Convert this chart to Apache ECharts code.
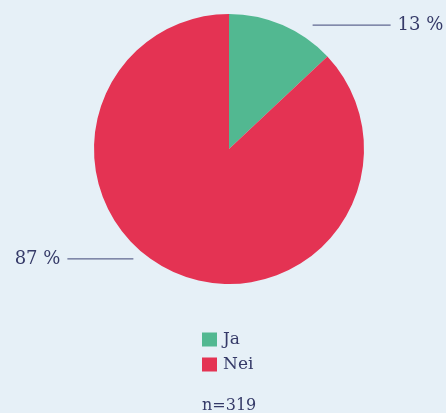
<!DOCTYPE html>
<html>
<head>
<meta charset="utf-8">
<script src="https://cdn.jsdelivr.net/npm/echarts@6/dist/echarts.min.js"></script>
<style>
  html, body { margin: 0; padding: 0; background: #e6f0f7; }
  #chart { width: 446px; height: 413px; }
</style>
</head>
<body>
<div id="chart"></div>
<script>
// svar
var categories = ['Ja', 'Nei']
var values = [13, 87]
var colors = ['#52b891', '#e43353']
var nText = 'n=319'

var textColor = '#353a68'
var serif = '"DejaVu Serif", "Liberation Serif", serif'

var chart = echarts.init(document.getElementById('chart'))

var pieData = categories.map(function (name, i) {
  return { name: name, value: values[i], itemStyle: { color: colors[i] } }
})

// avstand mellom kant og strek
var lineGap = [30, 42]

chart.setOption({
  backgroundColor: '#e6f0f7',
  animation: false,
  title: {
    text: nText,
    left: 202,
    top: 398,
    padding: 0,
    textStyle: { fontFamily: serif, fontSize: 16, fontWeight: 'normal', color: textColor }
  },
  legend: {
    orient: 'vertical',
    left: 202,
    top: 331,
    padding: 0,
    icon: 'rect',
    itemWidth: 15,
    itemHeight: 14,
    itemGap: 8,
    data: categories,
    textStyle: { fontFamily: serif, fontSize: 17, color: textColor, padding: [0, 0, 0, 1] }
  },
  series: [
    {
      type: 'pie',
      center: [229, 149],
      radius: 135,
      startAngle: 90,
      clockwise: true,
      data: pieData,
      label: {
        show: true,
        position: 'outside',
        formatter: '{c} %',
        fontFamily: serif,
        fontSize: 18,
        color: textColor,
        width: 60,
        overflow: 'none',
        distanceToLabelLine: 7
      },
      labelLine: {
        show: true,
        length: 0,
        length2: 108,
        lineStyle: { color: '#3f4577', width: 1 }
      },
      labelLayout: function (p) {
        var pts = p.labelLinePoints
        if (!pts) return {}
        var dir = pts[2][0] > pts[0][0] ? 1 : -1
        var gap = lineGap[p.dataIndex]
        var dy = p.dataIndex === 1 ? -14 : 0
        return {
          dy: dy,
          labelLinePoints: [
            [pts[0][0] + dir * gap, pts[0][1] + dy],
            [pts[1][0] + dir * gap, pts[1][1] + dy],
            [pts[2][0], pts[2][1] + dy]
          ]
        }
      },
      emphasis: { disabled: true }
    }
  ]
})
</script>
</body>
</html>
